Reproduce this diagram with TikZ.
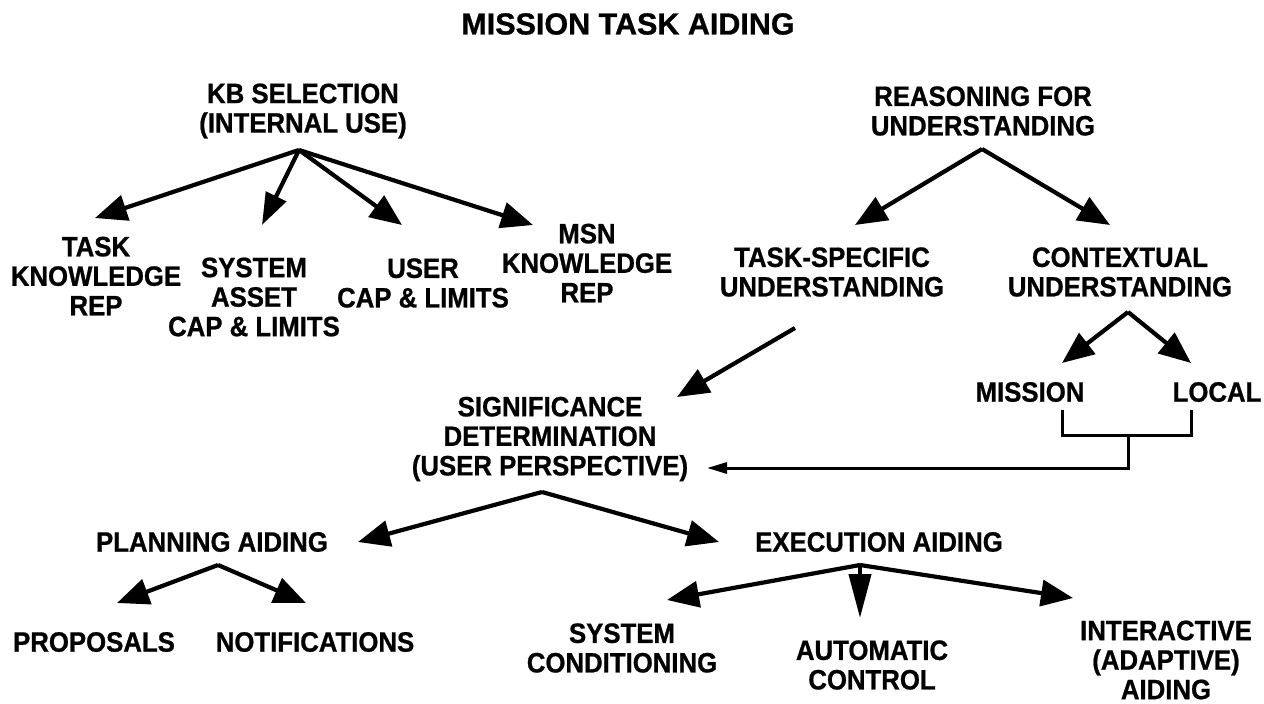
\documentclass[tikz,border=0pt]{standalone}
\usepackage{fontspec}
\setmainfont{Liberation Sans}[FakeStretch=0.92,FakeBold=0.8]
\newfontfamily\titlefont{Liberation Sans}[FakeBold=0.8]
\usetikzlibrary{arrows.meta}
\begin{document}
\begin{tikzpicture}[x=1pt,y=-1pt,
  txt/.style={font=\fontsize{28}{29.5}\selectfont\bfseries, align=center, inner sep=0pt},
  ttl/.style={font=\titlefont\fontsize{30.5}{34}\selectfont\bfseries, inner sep=0pt},
  arr/.style={line width=4.2pt, -{Triangle[length=32pt,width=26pt]}},
  narr/.style={line width=4.2pt, -{Triangle[length=44pt,width=22pt]}},
  karr/.style={line width=4.2pt, -{Triangle[length=32pt,width=22pt]}},
  thin/.style={line width=3pt},
  tarr/.style={line width=3pt, -{Triangle[length=20pt,width=11pt]}}]
\useasboundingbox (0,0) rectangle (1264,704);
\fill[white] (0,0) rectangle (1264,704);

\node[ttl] (title) at (628,24) {MISSION TASK AIDING};

\node[txt] (kb) at (303,111) {KB SELECTION\\(INTERNAL USE)};
\node[txt] (reas) at (983,111) {REASONING FOR\\UNDERSTANDING};

\node[txt] (task) at (96,276) {TASK\\KNOWLEDGE\\REP};
\node[txt] (sys) at (254,297) {SYSTEM\\ASSET\\CAP \& LIMITS};
\node[txt] (user) at (423,283) {USER\\CAP \& LIMITS};
\node[txt] (msn) at (587,263) {MSN\\KNOWLEDGE\\REP};

\node[txt] (tsu) at (832,272) {TASK-SPECIFIC\\UNDERSTANDING};
\node[txt] (ctx) at (1120,272) {CONTEXTUAL\\UNDERSTANDING};
\node[txt] (mis) at (1030,392) {MISSION};
\node[txt] (loc) at (1217,392) {LOCAL};

\node[txt] (sig) at (550,439) {SIGNIFICANCE\\DETERMINATION\\(USER PERSPECTIVE)};
\node[txt] (plan) at (212,542) {PLANNING AIDING};
\node[txt] (exe) at (879,542) {EXECUTION AIDING};
\node[txt] (prop) at (94,642) {PROPOSALS};
\node[txt] (noti) at (315,642) {NOTIFICATIONS};
\node[txt] (scond) at (622,648) {SYSTEM\\CONDITIONING};
\node[txt] (auto) at (872,665) {AUTOMATIC\\CONTROL};
\node[txt] (inter) at (1166,660) {INTERACTIVE\\(ADAPTIVE)\\AIDING};

% apex and tip coordinates
\coordinate (kbA) at (299,150);
\coordinate (tTask) at (95,218);
\coordinate (tSys) at (262,225);
\coordinate (tUser) at (402,225);
\coordinate (tMsn) at (533,225);
\coordinate (reA) at (982,149);
\coordinate (tTsu) at (855,225);
\coordinate (tCtx) at (1110,225);
\coordinate (tsuS) at (795,328);
\coordinate (tSig) at (677,397);
\coordinate (ctA) at (1128,312);
\coordinate (tMis) at (1062,363);
\coordinate (tLoc) at (1191,363);
\coordinate (bL) at (1062,410);
\coordinate (bR) at (1191,410);
\coordinate (bM) at (1128,435);
\coordinate (tSig2) at (707,468);
\coordinate (sgA) at (542,492);
\coordinate (tPlan) at (358,542);
\coordinate (tExe) at (719,542);
\coordinate (plA) at (218,565);
\coordinate (tProp) at (117,603);
\coordinate (tNoti) at (306,603);
\coordinate (exA) at (860,565);
\coordinate (tScond) at (667,600);
\coordinate (tAuto) at (860,618);
\coordinate (tInter) at (1073,598);

\draw[arr] (kbA) -- (tTask);
\draw[karr] (kbA) -- (tSys);
\draw[arr] (kbA) -- (tUser);
\draw[arr] (kbA) -- (tMsn);

\draw[arr] (reA) -- (tTsu);
\draw[arr] (reA) -- (tCtx);

\draw[arr] (tsuS) -- (tSig);

\draw[arr] (ctA) -- (tMis);
\draw[arr] (ctA) -- (tLoc);

\draw[thin] (bL) |- (bM) -| (bR);
\draw[tarr] (bM) |- (tSig2);

\draw[arr] (sgA) -- (tPlan);
\draw[arr] (sgA) -- (tExe);

\draw[arr] (plA) -- (tProp);
\draw[arr] (plA) -- (tNoti);

\draw[arr] (exA) -- (tScond);
\draw[narr] (exA) -- (tAuto);
\draw[arr] (exA) -- (tInter);
\end{tikzpicture}
\end{document}
